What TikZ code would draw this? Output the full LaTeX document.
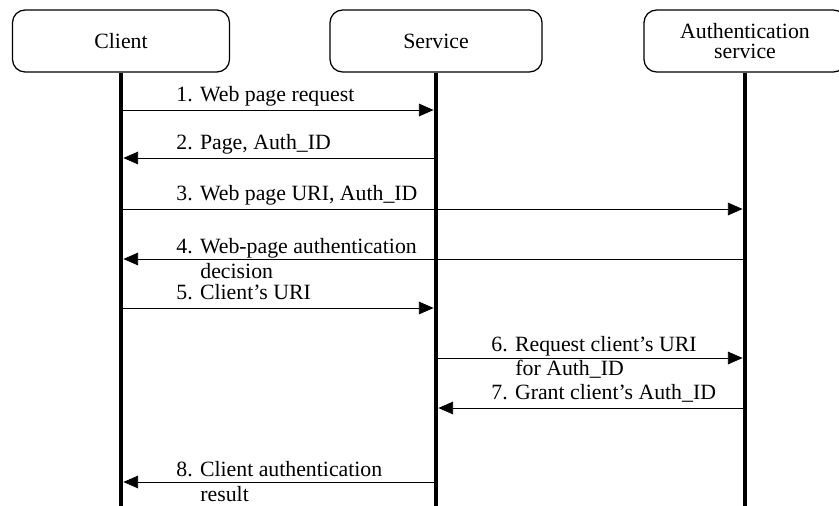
\documentclass[tikz,border=0pt]{standalone}
\usepackage{fontspec}
\setmainfont{Liberation Serif}
\usetikzlibrary{arrows.meta,positioning}

\begin{document}
\begin{tikzpicture}[
	x=0.025cm, y=-0.025cm,
	box/.style = {rectangle, draw, line width=0.9pt, rounded corners=9pt,
		minimum height=1.55cm, align=center,
		font=\fontsize{15.5}{14.5}\selectfont},
	life/.style = {line width=3.4pt},
	msg/.style = {line width=0.6pt, -{Triangle[length=10.5pt,width=9pt]},
		shorten >=1.7pt},
	lbl/.style = {anchor=base west, inner sep=0pt, xshift=1.375cm, yshift=6pt,
		font=\fontsize{15.5}{17.5}\selectfont},
	lbltwo/.style = {lbl, anchor=west, align=left, yshift=-5.5pt},
	]
	\clip (0,0) rectangle (839,505);
	
	\node[box, minimum width=5.425cm] (client) at (121,41) {Client};
	\node[box, minimum width=5.3cm] (service) at (436,41) {Service};
	\node[box, minimum width=5.05cm] (auth) at (745,41) {Authentication\\service};
	
	% lifelines
	\coordinate (client-end) at (client |- 0,510);
	\coordinate (service-end) at (service |- 0,510);
	\coordinate (auth-end) at (auth |- 0,510);
	\draw[life] (client.south) -- (client-end);
	\draw[life] (service.south) -- (service-end);
	\draw[life] (auth.south) -- (auth-end);
	
	\draw[msg] (client |- 0,110) -- (service |- 0,110)
		node[lbl, at start] {1. Web page request};
	\draw[msg] (service |- 0,158) -- (client |- 0,158)
		node[lbl, at end] {2. Page, Auth\_ID};
	\draw[msg] (client |- 0,209) -- (auth |- 0,209)
		node[lbl, at start] {3. Web page URI, Auth\_ID};
	\draw[msg] (auth |- 0,259) -- (client |- 0,259)
		node[lbltwo, at end] {4. Web-page authentication\\\hspace*{1.1em}decision};
	\draw[msg] (client |- 0,308) -- (service |- 0,308)
		node[lbl, at start] {5. Client's URI};
	
	\draw[msg] (service |- 0,358) -- (auth |- 0,358)
		node[lbltwo, at start] {6. Request client's URI\\\hspace*{1.1em}for Auth\_ID};
	\draw[msg] (auth |- 0,408) -- (service |- 0,408)
		node[lbl, at end] {7. Grant client's Auth\_ID};
	
	\draw[msg] (service |- 0,482) -- (client |- 0,482)
		node[lbltwo, at end] {8. Client authentication\\\hspace*{1.1em}result};
\end{tikzpicture}
\end{document}
